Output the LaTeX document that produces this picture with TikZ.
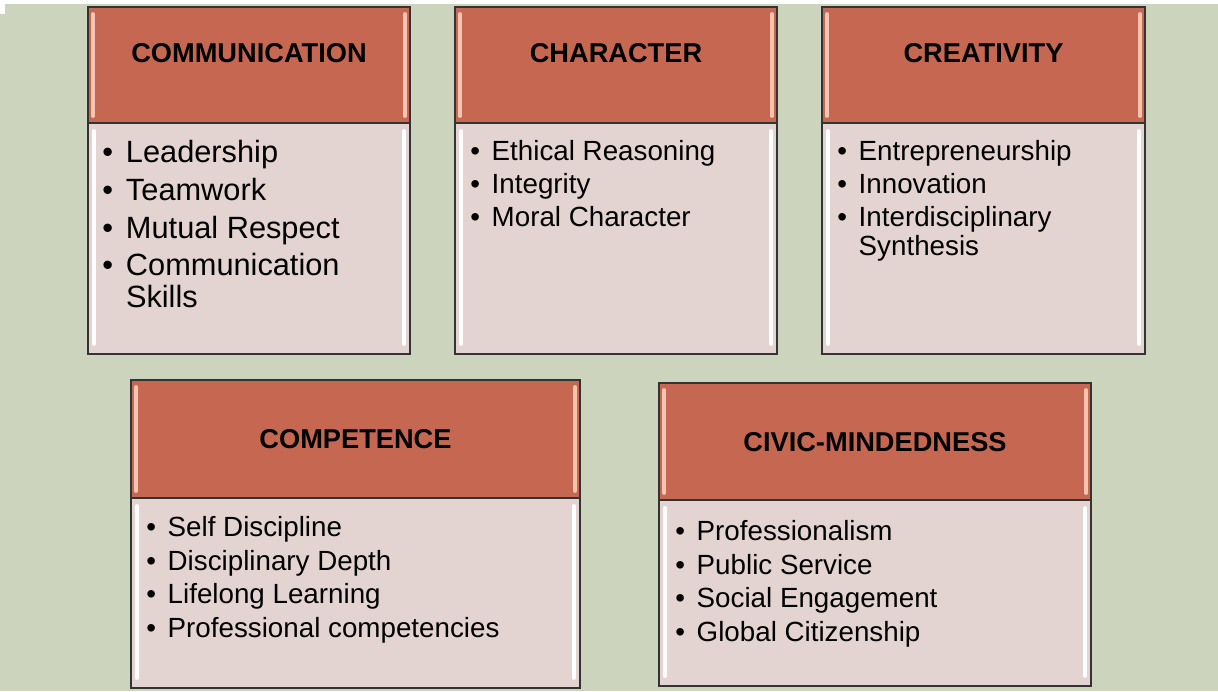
\documentclass[tikz,border=0pt]{standalone}
\usepackage{fontspec}
\setmainfont{Liberation Sans}
\usepackage{xcolor}
\usepackage{tikz}

\definecolor{sage}{RGB}{205,212,190}
\definecolor{brick}{RGB}{197,103,81}
\definecolor{blush}{RGB}{228,212,209}
\definecolor{glow}{RGB}{246,196,176}

\tikzset{
  title/.style={inner sep=0pt, font=\fontsize{15.5}{18}\selectfont\bfseries},
  items/.style={anchor=north west, align=left, inner sep=0pt, font=\fontsize{15.8}{18.8}\selectfont},
  edge/.style={draw=black!80, line width=0.8pt},
}

% bullet line
\newcommand{\itm}[1]{\makebox[0.77em][l]{\textbullet}#1}
% one card: left, top, right, split, bottom (in px)
\newcommand{\card}[5]{%
  \fill[brick] (#1,#2) rectangle (#3,#4);
  \fill[blush] (#1,#4) rectangle (#3,#5);
  \draw[glow, line width=2.2pt, line cap=round] (#1+5,#2+7) -- (#1+5,#4-7);
  \draw[glow, line width=2.2pt, line cap=round] (#3-5,#2+7) -- (#3-5,#4-7);
  \draw[white, line width=2.2pt, line cap=round] (#1+6,#4+8) -- (#1+6,#5-10);
  \draw[white, line width=2.2pt, line cap=round] (#3-6,#4+8) -- (#3-6,#5-10);
  \draw[edge] (#1,#2) rectangle (#3,#5);
  \draw[edge] (#1,#4) -- (#3,#4);
}

\begin{document}
\begin{tikzpicture}[x=0.02cm, y=-0.02cm]
        % Background
        \useasboundingbox (0,0) rectangle (1218,691);
        \fill[sage] (0,0) rectangle (1218,691);
        \fill[white] (0,0) rectangle (1218,4);
        \fill[white] (0,0) rectangle (5,14);

        % Draw the cards
        \card{88}{7}{410}{123}{354}
        \card{455}{7}{777}{123}{354}
        \card{822}{7}{1145}{123}{354}
        \card{131}{380}{580}{498}{688}
        \card{659}{383}{1091}{500}{686}

        % Titles
        \node[title] (commT) at (249,53) {COMMUNICATION};
        \node[title] (charT) at (616,53) {CHARACTER};
        \node[title] (creaT) at (983.5,53) {CREATIVITY};
        \node[title] (compT) at (355.5,439) {COMPETENCE};
        \node[title] (civiT) at (875,442) {CIVIC-MINDEDNESS};

        % Lists
        \node[items, font=\fontsize{17.5}{21.5}\selectfont] (commL) at (102,140)
          {\itm{Leadership}\\ \itm{Teamwork}\\ \itm{Mutual Respect}\\
           \itm{Communication}\\[-3.4pt] \hspace*{0.77em}Skills};
        \node[items] (charL) at (470,140)
          {\itm{Ethical Reasoning}\\ \itm{Integrity}\\ \itm{Moral Character}};
        \node[items] (creaL) at (837,140)
          {\itm{Entrepreneurship}\\ \itm{Innovation}\\
           \itm{Interdisciplinary}\\[-2.3pt] \hspace*{0.77em}Synthesis};
        \node[items, font=\fontsize{15.8}{19.1}\selectfont] (compL) at (146,516)
          {\itm{Self Discipline}\\ \itm{Disciplinary Depth}\\ \itm{Lifelong Learning}\\
           \itm{Professional competencies}};
        \node[items, font=\fontsize{15.8}{19.1}\selectfont] (civiL) at (675,520)
          {\itm{Professionalism}\\ \itm{Public Service}\\ \itm{Social Engagement}\\
           \itm{Global Citizenship}};

    \end{tikzpicture}
\end{document}
